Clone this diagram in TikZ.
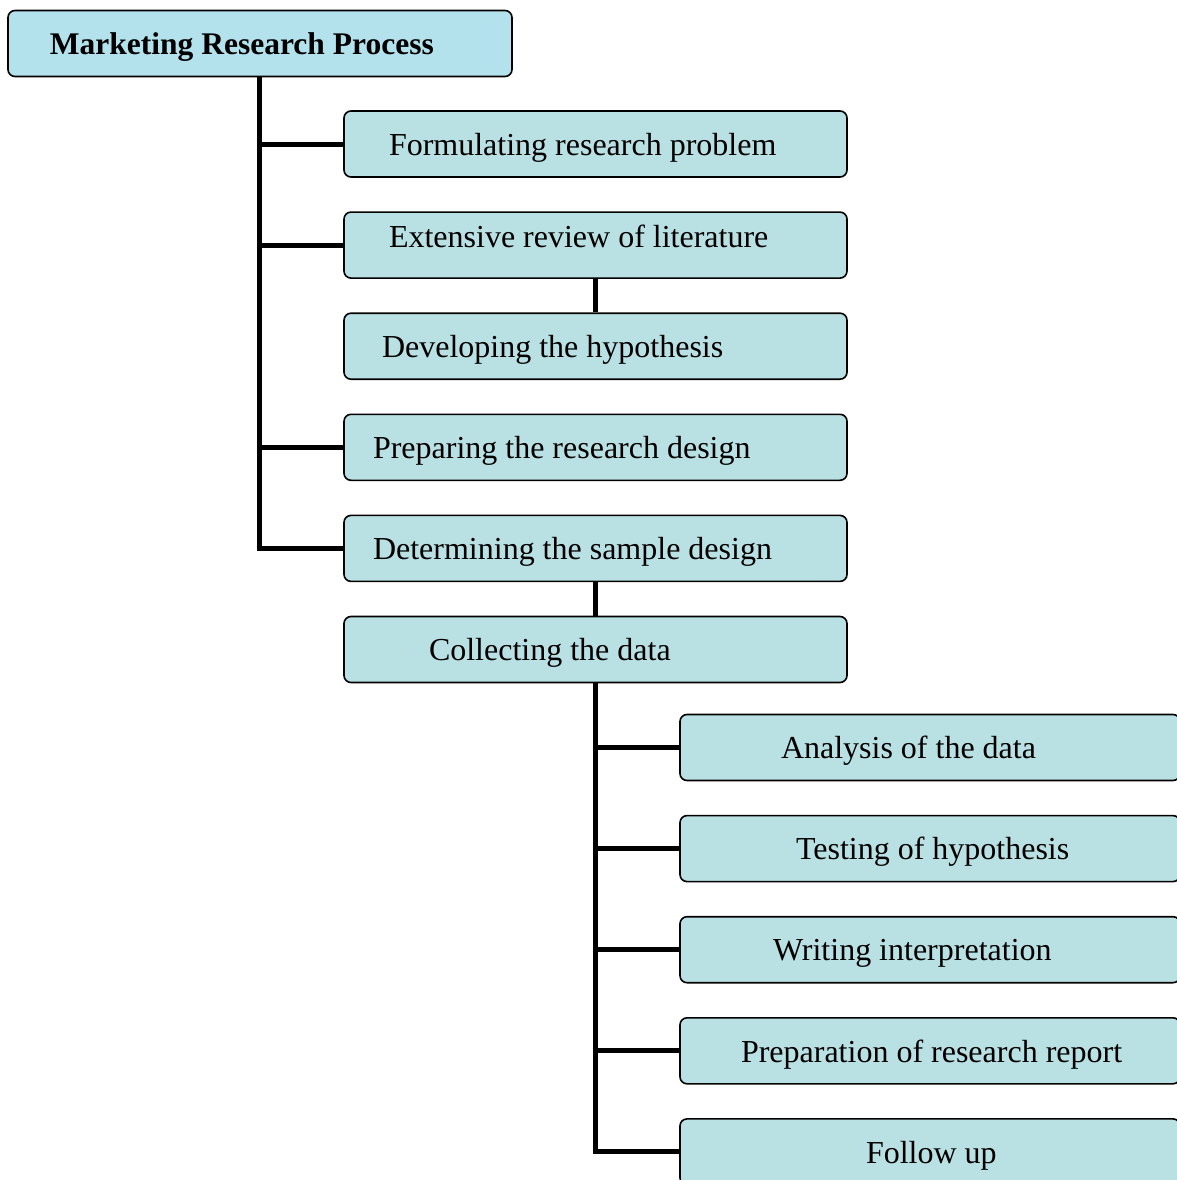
\documentclass[tikz,border=0pt]{standalone}
\usepackage{fontspec}
\setmainfont{Liberation Serif}
\usetikzlibrary{positioning}
\usetikzlibrary{calc}
\definecolor{boxfill}{RGB}{185,224,227}
\definecolor{headfill}{RGB}{179,226,236}
\tikzset{box/.style={draw,line width=1.6pt,rounded corners=7pt,fill=boxfill,minimum height=66pt,inner xsep=0pt,inner ysep=0pt,text width=503pt,text depth=0pt,align=flush left,font=\fontsize{32}{36}\selectfont},
wide/.style={box,text width=500pt},
trunk/.style={line width=5pt}}
\begin{document}
\begin{tikzpicture}[x=1pt,y=-1pt]
\useasboundingbox (0,0) rectangle (1176,1180);
\node (title) [box,fill=headfill,text width=504pt,minimum height=66pt,font=\fontsize{31.5}{36}\selectfont\bfseries] at (260,43.5) {\hspace*{42pt}Marketing Research Process};

\node (form) [box] at (595.5,144) {\hspace*{45pt}Formulating research problem};
\node (review) [box,below=33.5pt of form] {\hspace*{45pt}\raisebox{9pt}[\height][\depth]{Extensive review of literature}};
\node (hypo) [box,below=33.5pt of review] {\hspace*{38pt}Developing the hypothesis};
\node (design) [box,below=33.5pt of hypo] {\hspace*{29pt}Preparing the research design};
\node (sample) [box,below=33.5pt of design] {\hspace*{29pt}Determining the sample design};
\node (collect) [box,below=33.5pt of sample] {\hspace*{85pt}Collecting the data};

\node (analysis) [wide] at (930,747.5) {\hspace*{101pt}Analysis of the data};
\node (testing) [wide,below=33.5pt of analysis] {\hspace*{116pt}Testing of hypothesis};
\node (interp) [wide,below=33.5pt of testing] {\hspace*{93pt}Writing interpretation};
\node (report) [wide,below=33.5pt of interp] {\hspace*{61pt}Preparation of research report};
\node (follow) [wide,below=33.5pt of report] {\hspace*{186pt}Follow up};

\coordinate (spine) at (259,77);
\draw[trunk] (spine) |- (sample.west);
\draw[trunk] (form.west) -- (form.west -| spine);
\draw[trunk] (review.west) -- (review.west -| spine);
\draw[trunk] (design.west) -- (design.west -| spine);
\draw[trunk] (review.south) -- (hypo.north);
\draw[trunk] (sample.south) -- (collect.north);

\draw[trunk] (collect.south) |- (follow.west);
\draw[trunk] (analysis.west) -- (analysis.west -| collect.south);
\draw[trunk] (testing.west) -- (testing.west -| collect.south);
\draw[trunk] (interp.west) -- (interp.west -| collect.south);
\draw[trunk] (report.west) -- (report.west -| collect.south);
\end{tikzpicture}
\end{document}
